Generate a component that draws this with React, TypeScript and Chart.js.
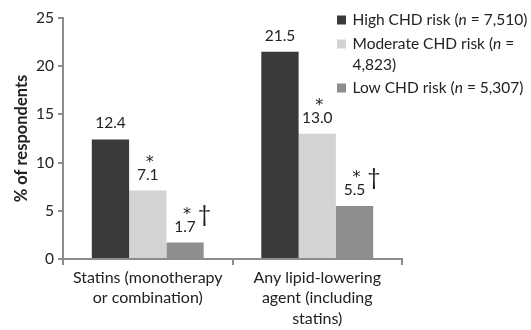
import { useEffect, useRef } from "react";
import { Chart, registerables } from "chart.js";
Chart.register(...registerables);

const categories = [
  ["Statins (monotherapy", "or combination)"],
  ["Any lipid-lowering", "agent (including", "statins)"],
];
const seriesKeys = ["High CHD risk", "Moderate CHD risk", "Low CHD risk"];
const highRisk = [12.4, 21.5];
const moderateRisk = [7.1, 13.0];
const lowRisk = [1.7, 5.5];
const highMarks = ["", ""];
const moderateMarks = ["*", "*"];
const lowMarks = ["*\u2020", "*\u2020"];
const seriesColors = ["#3a3a3a", "#d3d3d3", "#8e8e8e"];
// legend lines: segments alternate normal / italic; series index for square (-1 = continuation line)
const legendLines: { series: number; parts: string[] }[] = [
  { series: 0, parts: ["High CHD risk (", "n", " = 7,510)"] },
  { series: 1, parts: ["Moderate CHD risk (", "n", " ="] },
  { series: -1, parts: ["4,823)"] },
  { series: 2, parts: ["Low CHD risk (", "n", " = 5,307)"] },
];
const yTitle = "% of respondents";
const yMin = 0;
const yMax = 25;
const yStep = 5;

const FONT = "Lato, 'Open Sans', sans-serif";
const TEXT = "#222";
const AXIS = "#8c8c8c";

export default function App() {
  const ref = useRef<HTMLCanvasElement | null>(null);
  useEffect(() => {
    if (!ref.current) return;
    const marks = [highMarks, moderateMarks, lowMarks];

    const labelPlugin = {
      id: "valueLabels",
      afterDatasetsDraw(chart: any) {
        const ctx = chart.ctx;
        ctx.save();
        chart.data.datasets.forEach((ds: any, di: number) => {
          const meta = chart.getDatasetMeta(di);
          meta.data.forEach((bar: any, i: number) => {
            const v = ds.data[i] as number;
            const txt = v.toFixed(1);
            const cy = bar.y - 16;
            ctx.font = `15.5px ${FONT}`;
            ctx.fillStyle = TEXT;
            ctx.textAlign = "center";
            ctx.textBaseline = "middle";
            ctx.fillText(txt, bar.x, cy);
            const w = ctx.measureText(txt).width;
            const m = marks[di][i];
            if (m.includes("*")) {
              ctx.font = `16px 'DejaVu Sans', sans-serif`;
              ctx.fillText("*", bar.x + 2, cy - 12);
            }
            if (m.includes("\u2020")) {
              ctx.font = `23px ${FONT}`;
              ctx.textAlign = "left";
              ctx.fillText("\u2020", bar.x + w / 2 + 2, cy - 12);
            }
          });
        });
        ctx.restore();
      },
    };

    const legendPlugin = {
      id: "customLegend",
      afterDraw(chart: any) {
        const ctx = chart.ctx;
        ctx.save();
        const x0 = 337;
        const tx = 352.5;
        const ys = [20, 44, 65, 88];
        legendLines.forEach((ln, li) => {
          const y = ys[li];
          if (ln.series >= 0) {
            ctx.fillStyle = seriesColors[ln.series];
            ctx.fillRect(x0, y - 4.5, 9, 9);
          }
          let x = tx;
          ctx.fillStyle = TEXT;
          ctx.textAlign = "left";
          ctx.textBaseline = "middle";
          ln.parts.forEach((p, pi) => {
            ctx.font = `${pi % 2 === 1 ? "italic " : ""}15.5px ${FONT}`;
            ctx.fillText(p, x, y);
            x += ctx.measureText(p).width;
          });
        });
        ctx.restore();
      },
    };

    const chart = new Chart(ref.current, {
      type: "bar",
      data: {
        labels: categories,
        datasets: [
          { label: seriesKeys[0], data: highRisk, backgroundColor: seriesColors[0] },
          { label: seriesKeys[1], data: moderateRisk, backgroundColor: seriesColors[1] },
          { label: seriesKeys[2], data: lowRisk, backgroundColor: seriesColors[2] },
        ],
      },
      options: {
        animation: false,
        responsive: true,
        maintainAspectRatio: false,
        layout: { padding: { top: 18, right: 129, bottom: 0, left: 0 } },
        plugins: { legend: { display: false }, tooltip: { enabled: false } },
        datasets: { bar: { categoryPercentage: 0.66, barPercentage: 1.0 } },
        scales: {
          x: {
            grid: {
              display: true,
              offset: true,
              drawOnChartArea: false,
              tickLength: 6,
              color: AXIS,
              lineWidth: 2,
            },
            border: { display: true, color: AXIS, width: 2 },
            ticks: {
              font: { family: FONT, size: 16, lineHeight: 1.3 },
              color: TEXT,
              padding: 2,
              maxRotation: 0,
            },
            afterFit(scale: any) {
              scale.height = 71;
            },
          },
          y: {
            min: yMin,
            max: yMax,
            ticks: {
              stepSize: yStep,
              font: { family: FONT, size: 15.5 },
              color: TEXT,
              padding: 4,
            },
            grid: {
              display: true,
              drawOnChartArea: false,
              tickLength: 5,
              color: AXIS,
              lineWidth: 2,
            },
            border: { display: true, color: AXIS, width: 2 },
            title: {
              display: true,
              text: yTitle,
              font: { family: FONT, size: 16.5, weight: "bold" },
              color: TEXT,
              padding: { top: 12, bottom: 0 },
            },
            afterFit(scale: any) {
              scale.width = 63;
            },
          },
        },
      },
      plugins: [labelPlugin, legendPlugin],
    } as any);
    return () => chart.destroy();
  }, []);

  return (
    <div style={{ position: "absolute", left: 0, top: 0, width: 531, height: 330, background: "#fff" }}>
      <canvas ref={ref} />
    </div>
  );
}
